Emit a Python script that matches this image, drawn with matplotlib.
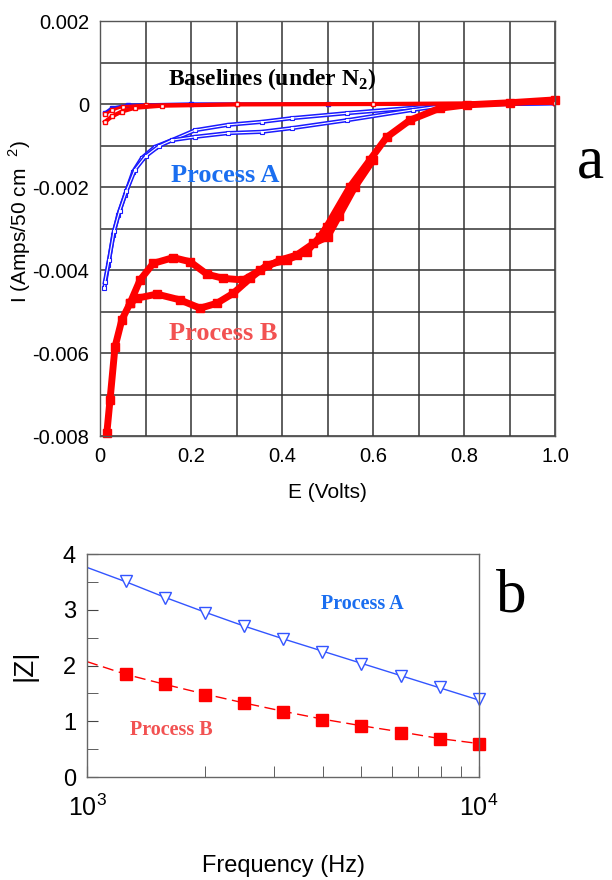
import matplotlib
matplotlib.use("Agg")
import matplotlib.pyplot as plt
from matplotlib.ticker import MultipleLocator, FixedLocator, NullFormatter

plt.rcParams["font.family"] = ["Liberation Sans", "DejaVu Sans"]
plt.rcParams["mathtext.fontset"] = "custom"
plt.rcParams["mathtext.rm"] = "Liberation Sans"
plt.rcParams["mathtext.bf"] = "Liberation Serif:bold"

# ---- panel a: current vs potential ----
# Process A (two traces of the loop)
E_A_up = [0.0095, 0.018, 0.029, 0.040, 0.055, 0.073, 0.092, 0.121, 0.158,
          0.209, 0.282, 0.355, 0.422, 0.543, 0.688, 0.75, 0.9, 1.0]
I_A_up = [-0.00444, -0.00388, -0.00316, -0.00267, -0.00219, -0.00163,
          -0.0013, -0.00103, -0.00087, -0.00063, -0.0005, -0.00043,
          -0.00034, -0.00022, -0.00009, -0.00002, 0.00001, 0.00002]
E_A_low = [0.0105, 0.02, 0.031, 0.043, 0.058, 0.077, 0.1, 0.13, 0.158,
           0.209, 0.282, 0.355, 0.422, 0.543, 0.688, 0.76, 0.9, 1.0]
I_A_low = [-0.0043, -0.00375, -0.00305, -0.00258, -0.0021, -0.00158,
           -0.00126, -0.00101, -0.00087, -0.00079, -0.0007, -0.00067,
           -0.00058, -0.00039, -0.00014, -0.00003, 0.0, 0.00002]

# Process B
E_B_low = [0.015, 0.022, 0.033, 0.048, 0.066, 0.081, 0.125, 0.176, 0.22,
           0.257, 0.293, 0.33, 0.367, 0.41, 0.454, 0.483, 0.498, 0.549,
           0.593, 0.63, 0.681, 0.747, 0.806, 0.9, 1.0]
I_B_low = [-0.00793, -0.00713, -0.00585, -0.0052, -0.0048, -0.00468,
           -0.00458, -0.00472, -0.00492, -0.0048, -0.00456, -0.0042,
           -0.00388, -0.00376, -0.00356, -0.0032, -0.00296, -0.002,
           -0.00135, -0.0008, -0.00039, -0.0001, -0.00002, 0.00003, 0.0001]
E_B_up = [0.066, 0.088, 0.117, 0.161, 0.198, 0.235, 0.271, 0.315, 0.352,
          0.396, 0.432, 0.469, 0.5, 0.525, 0.56, 0.6]
I_B_up = [-0.0048, -0.00424, -0.00384, -0.0037, -0.0038, -0.0041, -0.0042,
          -0.00424, -0.004, -0.00376, -0.00364, -0.00336, -0.0032, -0.0027,
          -0.0020, -0.00135]

# baselines under N2
E_base_blue = [0.011, 0.026, 0.062, 0.2, 0.5, 0.8, 1.0]
I_base_blue = [-0.00022, -0.0001, -0.00003, 0.0, 0.0, 0.0, 0.00002]
E_base_red = [0.011, 0.026, 0.048, 0.077, 0.136, 0.3, 0.6, 1.0]
I_base_red = [-0.00043, -0.0003, -0.00018, -0.00009, -0.00004, -0.00001,
              0.0, 0.00003]
E_base_red2 = [0.011, 0.026, 0.05, 0.1, 0.3, 1.0]
I_base_red2 = [-0.00025, -0.00015, -0.00006, -0.00002, 0.0, 0.00002]

# ---- panel b: |Z| vs frequency ----
freq = [1259, 1585, 1995, 2512, 3162, 3981, 5012, 6310, 7943, 10000]
Z_A = [3.51, 3.22, 2.95, 2.71, 2.48, 2.25, 2.03, 1.82, 1.61, 1.40]
Z_B = [1.84, 1.67, 1.48, 1.32, 1.16, 1.02, 0.91, 0.79, 0.69, 0.59]
freq_fit = [1000, 1259, 1585, 1995, 2512, 3162, 3981, 5012, 6310, 7943, 10000]
Z_A_fit = [3.76, 3.50, 3.22, 2.96, 2.71, 2.48, 2.26, 2.04, 1.82, 1.60, 1.38]
Z_B_fit = [2.07, 1.84, 1.66, 1.49, 1.33, 1.18, 1.04, 0.92, 0.81, 0.69, 0.60]

BLUE = "#1a1aff"
RED = "#ff0000"
TXT_BLUE = "#1a6ef0"
TXT_RED = "#f25252"

fig = plt.figure(figsize=(6.12, 8.8), dpi=100)

# panel a
ax1 = fig.add_axes([0.1634, 0.5045, 0.7435, 0.4716])
ax1.set_xlim(0, 1.0)
ax1.set_ylim(-0.008, 0.002)
ax1.xaxis.set_major_locator(FixedLocator([0, 0.2, 0.4, 0.6, 0.8, 1.0]))
ax1.xaxis.set_minor_locator(MultipleLocator(0.1))
ax1.yaxis.set_major_locator(FixedLocator([-0.008, -0.006, -0.004, -0.002, 0, 0.002]))
ax1.yaxis.set_minor_locator(MultipleLocator(0.001))
ax1.set_xticklabels(["0", "0.2", "0.4", "0.6", "0.8", "1.0"])
ax1.set_yticklabels(["-0.008", "-0.006", "-0.004", "-0.002", "0", "0.002"])
ax1.grid(True, which="both", color="#333333", lw=1.1)
ax1.set_axisbelow(True)
ax1.tick_params(which="both", length=0, labelsize=14.5, pad=8)
for s in ax1.spines.values():
    s.set_color("#555555")
    s.set_linewidth(1.0)

# process A: hollow blue band (blue line with a thin white core)
for E, I in [(E_A_up, I_A_up), (E_A_low, I_A_low)]:
    ax1.plot(E, I, color=BLUE, lw=3.0, marker="s", ms=3.5,
             mfc="white", mec=BLUE, mew=0.8)
    ax1.plot(E, I, color="white", lw=0.8)
ax1.plot(E_base_blue, I_base_blue, color=BLUE, lw=2.5, marker="s", ms=3)
ax1.plot(E_B_low, I_B_low, color=RED, lw=5, marker="s", ms=5.5, clip_on=False)
ax1.plot(E_B_up, I_B_up, color=RED, lw=5, marker="s", ms=5.5)
ax1.plot(E_base_red2, I_base_red2, color=RED, lw=2.0, marker="s", ms=3,
         mfc="white", mec=RED)
ax1.plot(E_base_red, I_base_red, color=RED, lw=3.0, marker="s", ms=3.5,
         mfc="white", mec=RED)

ax1.text(0.149, 0.0006, r"Baselines (under N$_{\mathbf{2}}$)",
         family="Liberation Serif", weight="bold", fontsize=17,
         color="black", va="center")
ax1.text(0.155, -0.00172, "Process A", family="Liberation Serif",
         weight="bold", fontsize=19, color=TXT_BLUE, va="center")
ax1.text(0.152, -0.00552, "Process B", family="Liberation Serif",
         weight="bold", fontsize=19, color=TXT_RED, va="center")

ax1.set_xlabel("E (Volts)", fontsize=15, labelpad=12)
fig.text(20 / 612, 1 - 222 / 880, "I (Amps/50 cm  $^{2}$)", rotation=90,
         fontsize=15, ha="center", va="center")
fig.text(590 / 612, 1 - 163 / 880, "a", family="Liberation Serif",
         fontsize=44, ha="center", va="center")

# panel b
ax2 = fig.add_axes([0.1422, 0.1170, 0.6405, 0.2534])
ax2.set_xscale("log")
ax2.set_xlim(1000, 10000)
ax2.set_ylim(0, 4)
ax2.set_xticks([1000, 10000])
ax2.set_xticklabels([r"$10^{3}$", r"$10^{4}$"])
ax2.xaxis.set_minor_formatter(NullFormatter())
ax2.yaxis.set_major_locator(MultipleLocator(1))
ax2.yaxis.set_minor_locator(MultipleLocator(0.5))
ax2.tick_params(which="both", direction="in", top=False, right=False,
                labelsize=17, color="#444444")
ax2.tick_params(which="major", length=8, pad=8)
ax2.tick_params(which="minor", length=8)
ax2.tick_params(axis="x", labelsize=18, pad=13)
for s in ax2.spines.values():
    s.set_color("#666666")
    s.set_linewidth(1.0)

ax2.plot(freq_fit, Z_A_fit, color="#3355ff", lw=1.0)
ax2.plot(freq, Z_A, ls="none", marker="v", ms=9, mfc="white",
         mec="#3355ff", mew=1.0, clip_on=False)
ax2.plot(freq_fit, Z_B_fit, color=RED, lw=1.0, dashes=(8, 4))
ax2.plot(freq, Z_B, ls="none", marker="s", ms=9, color=RED, clip_on=False)

ax2.text(3950, 3.1, "Process A", family="Liberation Serif", weight="bold",
         fontsize=14.5, color=TXT_BLUE, va="center")
ax2.text(1290, 0.85, "Process B", family="Liberation Serif", weight="bold",
         fontsize=14.5, color=TXT_RED, va="center")

ax2.set_ylabel("|Z|", fontsize=20, labelpad=18)
ax2.set_xlabel("Frequency (Hz)", fontsize=17, labelpad=24)
fig.text(511 / 612, 1 - 597 / 880, "b", family="Liberation Serif",
         fontsize=44, ha="center", va="center")

fig.savefig("out.png", dpi=100)
